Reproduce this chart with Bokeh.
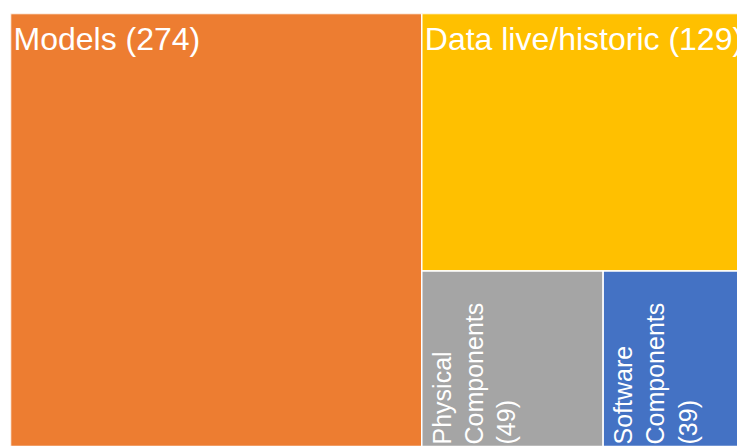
import math
from bokeh.plotting import figure
from bokeh.models import Range1d, ColumnDataSource
from bokeh.core.properties import value
from bokeh.embed import file_html
from bokeh.resources import INLINE

# data
categories = ["Models", "Data live/historic", "Physical Components", "Software Components"]
counts = [274, 129, 49, 39]
colors = ["#ED7D31", "#FFC000", "#A5A5A5", "#4472C4"]

# treemap canvas size (in layout units == pixels)
TW, TH = 737.0, 433.0

total = sum(counts)
# left column: largest item
w0 = TW * counts[0] / total
rects = []  # (left, right, bottom, top)
rects.append((0.0, w0, 0.0, TH))
rest = sum(counts[1:])
# top of right column: second item
h1 = TH * counts[1] / rest
rects.append((w0, TW, TH - h1, TH))
# bottom row split between remaining items
bottom_total = counts[2] + counts[3]
w2 = (TW - w0) * counts[2] / bottom_total
rects.append((w0, w0 + w2, 0.0, TH - h1))
rects.append((w0 + w2, TW, 0.0, TH - h1))

src = ColumnDataSource(dict(
    left=[r[0] for r in rects], right=[r[1] for r in rects],
    bottom=[r[2] for r in rects], top=[r[3] for r in rects],
    color=colors,
))

p = figure(width=737, height=446, output_backend="svg", toolbar_location=None,
           x_range=Range1d(0, 727), y_range=Range1d(0, 433),
           min_border_left=10, min_border_top=13, min_border_right=0, min_border_bottom=0)
p.axis.visible = False
p.grid.visible = False
p.outline_line_color = None
p.background_fill_color = "white"
p.border_fill_color = "white"

p.quad(left="left", right="right", bottom="bottom", top="top", source=src,
       fill_color="color", line_color="white", line_width=1.5)

font = value("Liberation Sans")
# horizontal labels for the two big tiles
hx = [rects[0][0], rects[1][0]]
hy = [rects[0][3], rects[1][3]]
htxt = [f"{categories[0]} ({counts[0]})", f"{categories[1]} ({counts[1]})"]
p.text(x=hx, y=hy, text=htxt, x_offset=3, y_offset=7, text_font=font,
       text_font_size="32px", text_color="white", text_align="left",
       text_baseline="top")

# vertical labels for the two small tiles
vx = [rects[2][0], rects[3][0]]
vy = [rects[2][2], rects[3][2]]
vtxt = ["Physical\nComponents\n(" + str(counts[2]) + ")",
        "Software\nComponents\n(" + str(counts[3]) + ")"]
p.text(x=vx, y=vy, text=vtxt, x_offset=6, y_offset=-2, angle=math.pi / 2,
       text_font=font, text_font_size="25px", text_color="white",
       text_align="left", text_baseline="top", text_line_height=1.15)

open("out.html", "w").write(file_html(p, INLINE))
